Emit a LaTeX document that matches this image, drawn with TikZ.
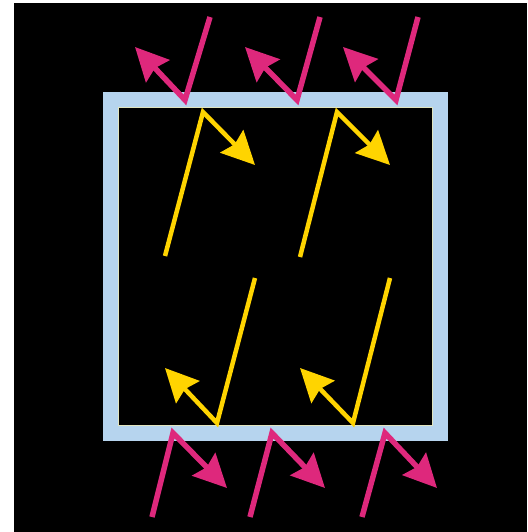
\documentclass[tikz,border=0pt]{standalone}
\usetikzlibrary{arrows.meta}
\definecolor{pinkray}{RGB}{222,40,124}
\definecolor{yellowray}{RGB}{255,212,0}
\definecolor{frameblue}{RGB}{182,212,238}
\definecolor{frameedge}{RGB}{225,228,190}
\tikzset{
  ray/.style={line width=5.5pt, line join=miter, -{Stealth[length=33pt,width=32pt,inset=4pt]}},
  outray/.style={ray, draw=pinkray},
  inray/.style={ray, draw=yellowray, line width=4.5pt},
  frame/.style={draw=frameblue, line width=15pt}
}
\begin{document}
\begin{tikzpicture}[x=1pt,y=-1pt]
\useasboundingbox (0,0) rectangle (527,532);
\fill[black] (14,3) rectangle (527,532);
\draw[frame] (110.5,100) rectangle (440.5,433.5);
\draw[frameedge, line width=1pt] (118.5,107.5) rectangle (432.5,425.5);
% top pink rays
\coordinate (ts1) at (210,17); \coordinate (tv1) at (185,100); \coordinate (tt1) at (135,47);
\coordinate (ts2) at (320,17); \coordinate (tv2) at (297,100); \coordinate (tt2) at (245,47);
\coordinate (ts3) at (418,17); \coordinate (tv3) at (396,100); \coordinate (tt3) at (343,47);
\draw[outray] (ts1) -- (tv1) -- (tt1);
\draw[outray] (ts2) -- (tv2) -- (tt2);
\draw[outray] (ts3) -- (tv3) -- (tt3);
% bottom pink rays
\coordinate (bs1) at (152,517); \coordinate (bv1) at (173,433); \coordinate (bt1) at (227,488);
\coordinate (bs2) at (250,517); \coordinate (bv2) at (272,433); \coordinate (bt2) at (325,488);
\coordinate (bs3) at (362,517); \coordinate (bv3) at (385,433); \coordinate (bt3) at (437,488);
\draw[outray] (bs1) -- (bv1) -- (bt1);
\draw[outray] (bs2) -- (bv2) -- (bt2);
\draw[outray] (bs3) -- (bv3) -- (bt3);
% yellow rays inside, upper
\coordinate (ys1) at (165,256); \coordinate (yv1) at (203,112); \coordinate (yt1) at (255,165);
\coordinate (ys2) at (300,257); \coordinate (yv2) at (337,112); \coordinate (yt2) at (390,165);
\draw[inray] (ys1) -- (yv1) -- (yt1);
\draw[inray] (ys2) -- (yv2) -- (yt2);
% yellow rays inside, lower
\coordinate (ls1) at (255,278); \coordinate (lv1) at (217,423); \coordinate (lt1) at (165,368);
\coordinate (ls2) at (390,278); \coordinate (lv2) at (353,423); \coordinate (lt2) at (300,368);
\draw[inray] (ls1) -- (lv1) -- (lt1);
\draw[inray] (ls2) -- (lv2) -- (lt2);
\end{tikzpicture}
\end{document}
